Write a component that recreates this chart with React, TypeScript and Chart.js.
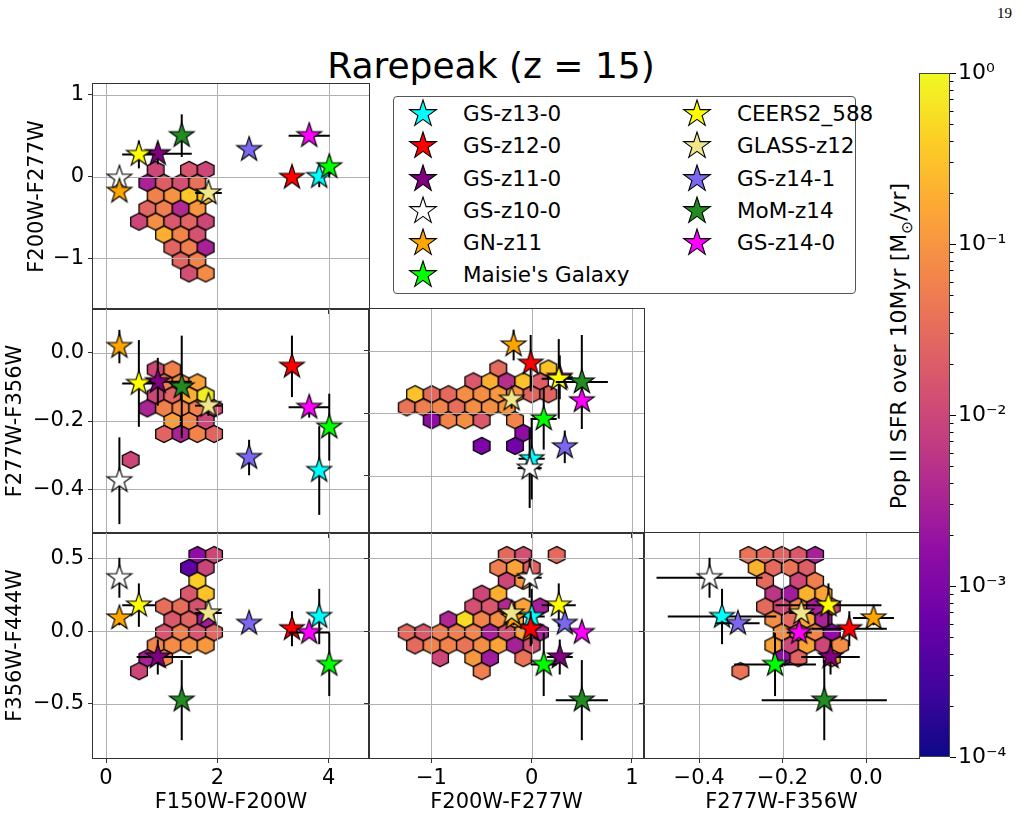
import React, { useEffect, useMemo, useRef } from 'react';
import { Chart, registerables } from 'chart.js';

Chart.register(...registerables);
Chart.defaults.font.family = "'DejaVu Sans', 'Noto Sans', sans-serif";

// ---------------- observed galaxies ----------------
const galaxyNames = ['GS-z13-0', 'GS-z12-0', 'GS-z11-0', 'GS-z10-0', 'GN-z11', "Maisie's Galaxy",
  'CEERS2_588', 'GLASS-z12', 'GS-z14-1', 'MoM-z14', 'GS-z14-0'];
const galaxyColors = ['#00ffff', '#ff0000', '#800080', '#ffffff', '#ffa500', '#00ff00',
  '#ffff00', '#f0e68c', '#7b68ee', '#228b22', '#ff00ff'];

// colours (mag)
const colF150F200 = [3.83, 3.34, 0.93, 0.24, 0.24, 4.01, 0.59, 1.84, 2.57, 1.36, 3.65];
const colF200F277 = [0.0, -0.01, 0.28, -0.02, -0.18, 0.12, 0.27, -0.2, 0.33, 0.5, 0.5];
const colF277F356 = [-0.345, -0.04, -0.085, -0.375, 0.018, -0.218, -0.09, -0.155, -0.307, -0.1, -0.16];
const colF356F444 = [0.1, 0.016, -0.178, 0.366, 0.09, -0.229, 0.178, 0.124, 0.053, -0.474, -0.01];

// uncertainties (lower / upper)
const errF150F200Lo = [0.05, 0.05, 0.38, 0.05, 0.05, 0.05, 0.3, 0.24, 0.03, 0.05, 0.37];
const errF150F200Hi = [0.05, 0.05, 0.61, 0.05, 0.05, 0.05, 0.3, 0.24, 0.03, 0.05, 0.37];
const errF200F277 = [0.13, 0.05, 0.13, 0.12, 0.05, 0.13, 0.17, 0.03, 0.03, 0.26, 0.03];
const errF277F356 = [0.13, 0.09, 0.07, 0.127, 0.049, 0.098, 0.127, 0.03, 0.052, 0.15, 0.03];
const errF356F444 = [0.19, 0.12, 0.12, 0.137, 0.05, 0.217, 0.149, 0.03, 0.02, 0.275, 0.03];

// ---------------- simulated hexbins: [x, y, log10 SFR] ----------------
type Hex = [number, number, number];

const hexF150F200_F200F277: Hex[] = [
  [0.892, 0.082, -2.0], [1.491, 0.082, -1.8], [1.79, 0.082, -2.0],
  [0.742, -0.076, -2.5], [1.042, -0.076, -1.68], [1.341, -0.076, -1.88], [1.64, -0.076, -1.44],
  [0.892, -0.234, -1.24], [1.191, -0.234, -1.04], [1.491, -0.234, -0.48], [1.79, -0.234, -0.56],
  [0.742, -0.392, -1.56], [1.042, -0.392, -1.28], [1.341, -0.392, -2.4], [1.64, -0.392, -1.0],
  [0.593, -0.55, -2.0], [0.892, -0.55, -1.08], [1.191, -0.55, -1.76], [1.491, -0.55, -1.6], [1.79, -0.55, -2.0],
  [1.042, -0.708, -0.72], [1.341, -0.708, -1.2], [1.64, -0.708, -1.84],
  [1.191, -0.866, -1.6], [1.491, -0.866, -1.28], [1.79, -0.866, -2.52],
  [1.341, -1.024, -1.6], [1.64, -1.024, -1.2],
  [1.491, -1.182, -1.88], [1.79, -1.182, -1.12],
];

const hexF150F200_F277F356: Hex[] = [
  [0.892, -0.049, -2.0], [1.191, -0.049, -1.24],
  [1.042, -0.087, -1.3], [1.341, -0.087, -1.1], [1.64, -0.087, -0.88],
  [0.892, -0.125, -2.0], [1.191, -0.125, -1.6], [1.491, -0.125, -0.72], [1.79, -0.125, -0.12],
  [0.742, -0.163, -2.48], [1.042, -0.163, -1.24], [1.341, -0.163, -1.16], [1.64, -0.163, -1.24], [1.94, -0.163, -1.84],
  [1.191, -0.2, -0.88], [1.491, -0.2, -1.16], [1.79, -0.2, -2.0],
  [1.042, -0.238, -1.6], [1.341, -0.238, -2.48], [1.64, -0.238, -1.2], [1.94, -0.238, -1.6],
  [0.443, -0.314, -2.0],
];

const hexF150F200_F356F444: Hex[] = [
  [1.64, 0.522, -2.8], [1.94, 0.522, -2.0],
  [1.491, 0.434, -3.3], [1.79, 0.434, -2.04],
  [1.64, 0.345, -0.4],
  [1.491, 0.256, -1.76], [1.79, 0.256, -0.52],
  [1.042, 0.168, -1.48], [1.341, 0.168, -1.48], [1.64, 0.168, -1.84],
  [1.191, 0.079, -1.76], [1.491, 0.079, -1.6], [1.79, 0.079, -2.6],
  [1.042, -0.009, -1.8], [1.341, -0.009, -1.24], [1.64, -0.009, -1.8], [1.94, -0.009, -1.56],
  [0.892, -0.098, -1.16], [1.191, -0.098, -1.12], [1.491, -0.098, -1.04], [1.79, -0.098, -0.96],
  [0.742, -0.186, -2.52], [1.042, -0.186, -1.16],
  [0.593, -0.275, -2.0],
];

const hexF200F277_F277F356: Hex[] = [
  [-0.333, -0.057, -1.52], [0.166, -0.057, -0.52],
  [-0.582, -0.098, -1.76], [-0.416, -0.098, -0.72], [-0.249, -0.098, -2.32], [-0.083, -0.098, -0.52], [0.083, -0.098, -1.68],
  [-1.163, -0.139, -0.52], [-0.997, -0.139, -1.52], [-0.831, -0.139, -1.52], [-0.665, -0.139, -1.08], [-0.499, -0.139, -1.08],
  [-0.333, -0.139, -0.96], [-0.166, -0.139, -1.0], [0.0, -0.139, -1.6], [0.166, -0.139, -1.6],
  [-1.246, -0.181, -1.4], [-1.08, -0.181, -1.28], [-0.914, -0.181, -1.2], [-0.748, -0.181, -1.48],
  [-0.582, -0.181, -1.08], [-0.416, -0.181, -1.08], [-0.249, -0.181, -0.96],
  [-0.997, -0.222, -2.8], [-0.831, -0.222, -1.2], [-0.665, -0.222, -1.08], [-0.499, -0.222, -1.76], [-0.166, -0.222, -1.2],
  [-0.083, -0.263, -2.8],
  [-0.499, -0.304, -3.0], [-0.166, -0.304, -3.12],
];

const hexF200F277_F356F444: Hex[] = [
  [-0.249, 0.522, -1.52], [-0.083, 0.522, -1.88], [0.249, 0.522, -1.52],
  [-0.333, 0.434, -1.28], [-0.166, 0.434, -0.84], [0.0, 0.434, -1.6],
  [-0.249, 0.345, -2.0], [-0.083, 0.345, -0.96],
  [-0.499, 0.256, -2.0], [-0.333, 0.256, -0.72],
  [-0.582, 0.168, -1.88], [-0.416, 0.168, -1.76], [-0.249, 0.168, -2.4], [-0.083, 0.168, -0.84], [0.083, 0.168, -2.52],
  [-0.831, 0.079, -2.44], [-0.665, 0.079, -0.28], [-0.499, 0.079, -1.2], [-0.333, 0.079, -1.08], [-0.166, 0.079, -0.72],
  [-1.246, -0.009, -1.52], [-1.08, -0.009, -1.76], [-0.914, -0.009, -1.28], [-0.748, -0.009, -1.28], [-0.582, -0.009, -1.2],
  [-0.416, -0.009, -2.52], [-0.249, -0.009, -1.88], [-0.083, -0.009, -0.84], [0.083, -0.009, -2.52],
  [-1.163, -0.098, -1.52], [-0.997, -0.098, -1.2], [-0.831, -0.098, -1.2], [-0.665, -0.098, -1.4],
  [-0.499, -0.098, -1.08], [-0.333, -0.098, -0.84], [-0.166, -0.098, -2.52], [0.0, -0.098, -1.88],
  [-0.914, -0.186, -2.0], [-0.582, -0.186, -0.96], [-0.416, -0.186, -2.6], [-0.083, -0.186, -1.4],
  [-0.499, -0.275, -1.28],
];

const hexF277F356_F356F444: Hex[] = [
  [-0.282, 0.522, -1.4], [-0.242, 0.522, -1.52], [-0.202, 0.522, -1.6], [-0.162, 0.522, -1.76], [-0.122, 0.522, -2.52],
  [-0.262, 0.434, -0.68], [-0.222, 0.434, -1.52], [-0.182, 0.434, -1.4], [-0.142, 0.434, -1.68],
  [-0.242, 0.345, -1.52], [-0.162, 0.345, -2.0], [-0.122, 0.345, -1.28],
  [-0.222, 0.256, -2.24], [-0.182, 0.256, -2.6], [-0.142, 0.256, -0.68], [-0.102, 0.256, -0.84],
  [-0.242, 0.168, -1.52], [-0.202, 0.168, -2.0], [-0.162, 0.168, -1.2], [-0.122, 0.168, -2.52], [-0.082, 0.168, -2.0],
  [-0.222, 0.079, -1.08], [-0.182, 0.079, -1.52], [-0.142, 0.079, -0.8], [-0.102, 0.079, -2.5],
  [-0.202, -0.009, -1.08], [-0.162, -0.009, -1.52], [-0.122, -0.009, -1.2], [-0.082, -0.009, -2.8],
  [-0.222, -0.098, -0.84], [-0.182, -0.098, -2.0], [-0.142, -0.098, -0.84], [-0.102, -0.098, -2.0], [-0.062, -0.098, -1.08],
  [-0.202, -0.186, -2.8], [-0.162, -0.186, -1.6], [-0.082, -0.186, -0.84],
  [-0.301, -0.275, -1.4],
];

// ---------------- axes ----------------
const axisTitles = ['F150W-F200W', 'F200W-F277W', 'F277W-F356W', 'F356W-F444W'];
const ticksF150F200 = [0, 2, 4];
const ticksF200F277 = [-1, 0, 1];
const ticksF277F356 = [-0.4, -0.2, 0];
const ticksF356F444 = [-0.5, 0, 0.5];
const tickDecimals = [0, 0, 1, 1];
const sfrDecades = [1e-4, 1e-3, 1e-2, 1e-1, 1];

const colourValues = [colF150F200, colF200F277, colF277F356, colF356F444];
const errLo = [errF150F200Lo, errF200F277, errF277F356, errF356F444];
const errHi = [errF150F200Hi, errF200F277, errF277F356, errF356F444];
const axisTicks = [ticksF150F200, ticksF200F277, ticksF277F356, ticksF356F444];

// grid geometry of the corner plot
const COL_LEFT = [93, 369, 644];
const COL_W = [276, 275, 275];
const ROW_TOP = [84, 309, 533];
const ROW_H = [225, 224, 225];

type PanelSpec = {
  xi: number; yi: number; col: number; row: number;
  xRange: [number, number]; yRange: [number, number]; hex: Hex[];
};

const panels: PanelSpec[] = [
  { xi: 0, yi: 1, col: 0, row: 0, xRange: [-0.234, 4.724], yRange: [-1.617, 1.131], hex: hexF150F200_F200F277 },
  { xi: 0, yi: 2, col: 0, row: 1, xRange: [-0.234, 4.724], yRange: [-0.528, 0.128], hex: hexF150F200_F277F356 },
  { xi: 1, yi: 2, col: 1, row: 1, xRange: [-1.622, 1.12], yRange: [-0.582, 0.133], hex: hexF200F277_F277F356 },
  { xi: 0, yi: 3, col: 0, row: 2, xRange: [-0.234, 4.724], yRange: [-0.871, 0.673], hex: hexF150F200_F356F444 },
  { xi: 1, yi: 3, col: 1, row: 2, xRange: [-1.622, 1.12], yRange: [-0.871, 0.673], hex: hexF200F277_F356F444 },
  { xi: 2, yi: 3, col: 2, row: 2, xRange: [-0.532, 0.127], yRange: [-0.871, 0.673], hex: hexF277F356_F356F444 },
];

// ---------------- colour map ----------------
const PLASMA = [
  [13, 8, 135], [65, 4, 157], [106, 0, 168], [143, 13, 164], [177, 42, 144], [204, 71, 120],
  [225, 100, 98], [242, 132, 75], [252, 166, 54], [252, 206, 37], [240, 249, 33],
];
function plasma(t: number): string {
  const tt = Math.min(1, Math.max(0, t)) * 10;
  const i = Math.min(9, Math.floor(tt));
  const f = tt - i;
  const a = PLASMA[i], b = PLASMA[i + 1];
  const c = [0, 1, 2].map((k) => Math.round(a[k] + (b[k] - a[k]) * f));
  return `rgb(${c[0]},${c[1]},${c[2]})`;
}
const LOG_MIN = -4, LOG_MAX = 0;
const sfrColor = (logv: number) => plasma((logv - LOG_MIN) / (LOG_MAX - LOG_MIN));

// ---------------- marker sprites ----------------
const hexCache = new Map<string, HTMLCanvasElement>();
function hexImage(color: string): HTMLCanvasElement {
  const hit = hexCache.get(color);
  if (hit) return hit;
  const c = document.createElement('canvas');
  c.width = 20; c.height = 20;
  const g = c.getContext('2d')!;
  const cx = 10, cy = 10, hw = 8.35, hh = 8.6;
  g.beginPath();
  g.moveTo(cx, cy - hh);
  g.lineTo(cx + hw, cy - hh / 2);
  g.lineTo(cx + hw, cy + hh / 2);
  g.lineTo(cx, cy + hh);
  g.lineTo(cx - hw, cy + hh / 2);
  g.lineTo(cx - hw, cy - hh / 2);
  g.closePath();
  g.fillStyle = color;
  g.fill();
  g.lineWidth = 1.3;
  g.strokeStyle = '#000';
  g.stroke();
  hexCache.set(color, c);
  return c;
}

function starImage(color: string, R: number): HTMLCanvasElement {
  let size = Math.ceil(2 * R + 4);
  if (size % 2) size += 1;
  const c = document.createElement('canvas');
  c.width = size; c.height = size;
  const g = c.getContext('2d')!;
  const cx = size / 2, cy = size / 2;
  g.beginPath();
  for (let i = 0; i < 10; i++) {
    const ang = -Math.PI / 2 + (i * Math.PI) / 5;
    const r = i % 2 === 0 ? R : R * 0.381966;
    const px = cx + r * Math.cos(ang), py = cy + r * Math.sin(ang);
    if (i === 0) g.moveTo(px, py); else g.lineTo(px, py);
  }
  g.closePath();
  g.fillStyle = color;
  g.fill();
  g.lineWidth = 1.1;
  g.lineJoin = 'miter';
  g.strokeStyle = '#000';
  g.stroke();
  return c;
}

const fmtTick = (v: number, dec: number) => (v < -1e-9 ? '\u2212' : '') + Math.abs(v).toFixed(dec);

const SUP: Record<string, string> = { '0': '⁰', '1': '¹', '2': '²', '3': '³', '4': '⁴', '-': '⁻' };
const decadeLabel = (v: number) => '10' + String(Math.round(Math.log10(v))).split('').map((ch) => SUP[ch] ?? ch).join('');

// ---------------- plugins ----------------
const gridAfterHex = {
  id: 'gridAfterHex',
  afterDatasetDraw(chart: any, args: any) {
    const ds = chart.data.datasets[args.index];
    if (!ds || ds.label !== 'hexbin') return;
    const { ctx, chartArea: a, scales } = chart;
    ctx.save();
    ctx.strokeStyle = '#b0b0b0';
    ctx.lineWidth = 1;
    for (const t of scales.x.ticks) {
      const px = Math.round(scales.x.getPixelForValue(t.value)) + 0.5;
      ctx.beginPath(); ctx.moveTo(px, a.top); ctx.lineTo(px, a.bottom); ctx.stroke();
    }
    for (const t of scales.y.ticks) {
      const py = Math.round(scales.y.getPixelForValue(t.value)) + 0.5;
      ctx.beginPath(); ctx.moveTo(a.left, py); ctx.lineTo(a.right, py); ctx.stroke();
    }
    ctx.restore();
  },
};

const frame = {
  id: 'frame',
  afterDatasetsDraw(chart: any) {
    const { ctx, chartArea: a } = chart;
    ctx.save();
    ctx.strokeStyle = '#333';
    ctx.lineWidth = 1;
    ctx.strokeRect(Math.round(a.left) - 0.5, Math.round(a.top) - 0.5, Math.round(a.right - a.left) + 1, Math.round(a.bottom - a.top) + 1);
    ctx.restore();
  },
};

const cbarDecor = {
  id: 'cbarDecor',
  afterDraw(chart: any) {
    const { ctx, chartArea: a, scales } = chart;
    const y = scales.y;
    ctx.save();
    ctx.strokeStyle = '#000';
    ctx.lineWidth = 1;
    for (let d = -4; d < 0; d++) {
      for (let k = 2; k <= 9; k++) {
        const py = Math.round(y.getPixelForValue(k * Math.pow(10, d))) + 0.5;
        ctx.beginPath(); ctx.moveTo(a.right, py); ctx.lineTo(a.right + 3.5, py); ctx.stroke();
      }
    }
    ctx.strokeStyle = '#444';
    ctx.strokeRect(Math.round(a.left) + 0.5, Math.round(a.top) + 0.5, Math.round(a.right - a.left) - 1, Math.round(a.bottom - a.top) - 1);
    ctx.restore();
  },
};

// ---------------- components ----------------
const TICK_FONT = 21;
const TITLE_FONT = 21;

function CornerPanel({ spec, stars }: { spec: PanelSpec; stars: HTMLCanvasElement[] }) {
  const ref = useRef<HTMLCanvasElement>(null);
  const showX = spec.row === 2;
  const showY = spec.col === 0;
  // wider tick labels push the y title further out on the lower rows
  const L = showY && spec.row > 0 ? 90 : 70;
  const yTitlePad = spec.row > 0 ? 0 : 2;
  const R = 6, T = 6, B = 60;
  const W = COL_W[spec.col], H = ROW_H[spec.row];
  const cw = L + W + R, ch = T + H + B;

  useEffect(() => {
    const xs = colourValues[spec.xi], ys = colourValues[spec.yi];
    const datasets: any[] = [];
    datasets.push({
      label: 'hexbin',
      data: spec.hex.map(([x, y, v]) => ({ x, y, v })),
      pointStyle: (c: any) => hexImage(sfrColor(c.raw ? c.raw.v : -2)),
      pointRadius: 9,
      pointHoverRadius: 9,
      order: 1000,
    });
    galaxyNames.forEach((name, k) => {
      const x = xs[k], y = ys[k];
      const line = { showLine: true, borderColor: '#000', borderWidth: 2, pointRadius: 0, pointHoverRadius: 0, fill: false };
      datasets.push({ label: name + ' x-err', data: [{ x: x - errLo[spec.xi][k], y }, { x: x + errHi[spec.xi][k], y }], ...line, order: 500 - 2 * k });
      datasets.push({ label: name + ' y-err', data: [{ x, y: y - errLo[spec.yi][k] }, { x, y: y + errHi[spec.yi][k] }], ...line, order: 500 - 2 * k });
      datasets.push({ label: name, data: [{ x, y }], pointStyle: stars[k], pointRadius: 12, pointHoverRadius: 12, order: 499 - 2 * k });
    });

    const chart = new Chart(ref.current!, {
      type: 'scatter',
      data: { datasets },
      options: {
        responsive: false,
        animation: false,
        devicePixelRatio: 1,
        events: [],
        layout: { padding: { left: 0, top: T, right: R, bottom: 0 }, autoPadding: false },
        plugins: { legend: { display: false }, tooltip: { enabled: false } },
        scales: {
          x: {
            type: 'linear',
            min: spec.xRange[0],
            max: spec.xRange[1],
            afterBuildTicks: (s: any) => { s.ticks = axisTicks[spec.xi].map((v) => ({ value: v })); },
            afterFit: (s: any) => { s.height = B; s.paddingLeft = 0; s.paddingRight = 0; },
            ticks: {
              display: showX, color: '#000', font: { size: TICK_FONT }, padding: 3, autoSkip: false, maxRotation: 0,
              callback: (v: any) => fmtTick(Number(v), tickDecimals[spec.xi]),
            },
            grid: { display: true, drawOnChartArea: false, drawTicks: true, tickLength: 5, tickColor: '#333', tickWidth: 1 },
            border: { display: false },
            title: { display: showX, text: axisTitles[spec.xi], color: '#000', font: { size: TITLE_FONT }, padding: { top: 0, bottom: 2.4 } },
          },
          y: {
            type: 'linear',
            min: spec.yRange[0],
            max: spec.yRange[1],
            afterBuildTicks: (s: any) => { s.ticks = axisTicks[spec.yi].map((v) => ({ value: v })); },
            afterFit: (s: any) => { s.width = L; s.paddingTop = 0; s.paddingBottom = 0; },
            ticks: {
              display: showY, color: '#000', font: { size: TICK_FONT }, padding: 4, autoSkip: false,
              callback: (v: any) => fmtTick(Number(v), tickDecimals[spec.yi]),
            },
            grid: { display: true, drawOnChartArea: false, drawTicks: true, tickLength: 5, tickColor: '#333', tickWidth: 1 },
            border: { display: false },
            title: { display: showY, text: axisTitles[spec.yi], color: '#000', font: { size: TITLE_FONT }, padding: { top: yTitlePad, bottom: 0 } },
          },
        },
      } as any,
      plugins: [gridAfterHex, frame],
    });
    return () => chart.destroy();
  }, []);

  return (
    <canvas
      ref={ref}
      width={cw}
      height={ch}
      style={{ position: 'absolute', left: COL_LEFT[spec.col] - L, top: ROW_TOP[spec.row] - T, width: cw, height: ch }}
    />
  );
}

const CB_LEFT = 919, CB_TOP = 73, CB_W = 31, CB_H = 684;

function ColorBar() {
  const ref = useRef<HTMLCanvasElement>(null);
  const PAD = 16, RW = 80;
  const cw = CB_W + RW, ch = CB_H + 2 * PAD;
  useEffect(() => {
    const chart = new Chart(ref.current!, {
      type: 'bar',
      data: {
        labels: [''],
        datasets: [{
          data: [[sfrDecades[0], sfrDecades[sfrDecades.length - 1]]],
          backgroundColor: (c: any) => {
            const a = c.chart.chartArea;
            if (!a) return '#888';
            const g = c.chart.ctx.createLinearGradient(0, a.bottom, 0, a.top);
            for (let i = 0; i <= 20; i++) g.addColorStop(i / 20, plasma(i / 20));
            return g;
          },
          borderWidth: 0,
          barPercentage: 1,
          categoryPercentage: 1,
        }],
      },
      options: {
        responsive: false,
        animation: false,
        devicePixelRatio: 1,
        events: [],
        layout: { padding: { left: 0, top: PAD, right: 0, bottom: PAD }, autoPadding: false },
        plugins: { legend: { display: false }, tooltip: { enabled: false } },
        scales: {
          x: { display: false },
          y: {
            type: 'logarithmic',
            position: 'right',
            min: sfrDecades[0],
            max: sfrDecades[sfrDecades.length - 1],
            afterBuildTicks: (s: any) => { s.ticks = sfrDecades.map((v) => ({ value: v, major: true })); },
            afterFit: (s: any) => { s.width = RW; s.paddingTop = 0; s.paddingBottom = 0; },
            ticks: { color: '#000', font: { size: 22 }, padding: 2, autoSkip: false, callback: (v: any) => decadeLabel(Number(v)) },
            grid: { display: true, drawOnChartArea: false, drawTicks: true, tickLength: 6, tickColor: '#000', tickWidth: 1 },
            border: { display: false },
          },
        },
      } as any,
      plugins: [cbarDecor],
    });
    return () => chart.destroy();
  }, []);
  return (
    <canvas
      ref={ref}
      width={cw}
      height={ch}
      style={{ position: 'absolute', left: CB_LEFT, top: CB_TOP - PAD, width: cw, height: ch }}
    />
  );
}

function Legend() {
  const icons = useMemo(() => galaxyColors.map((c) => starImage(c, 14).toDataURL()), []);
  const rowY = (i: number) => 114.3 + 32.1 * i;
  const items = galaxyNames.map((name, k) => {
    const col = k < 6 ? 0 : 1;
    const row = k < 6 ? k : k - 6;
    const sx = col === 0 ? 423.3 : 697.3;
    const tx = col === 0 ? 463 : 737;
    const cy = rowY(row);
    return (
      <React.Fragment key={name}>
        <img src={icons[k]} style={{ position: 'absolute', left: sx - 16, top: cy - 16, width: 32, height: 32 }} />
        <div style={{ position: 'absolute', left: tx, top: cy - 13, height: 26, lineHeight: '26px', fontSize: 21.5, whiteSpace: 'nowrap', color: '#000' }}>
          {name}
        </div>
      </React.Fragment>
    );
  });
  return (
    <>
      <div style={{ position: 'absolute', left: 393, top: 96, width: 463, height: 198, boxSizing: 'border-box', border: '1px solid #555', borderRadius: 4, background: '#fff' }} />
      {items}
    </>
  );
}

export default function App() {
  const stars = useMemo(() => galaxyColors.map((c) => starImage(c, 13)), []);
  return (
    <div style={{ position: 'absolute', left: 0, top: 0, width: 1025, height: 816, background: '#fff', overflow: 'hidden', fontFamily: "'DejaVu Sans', sans-serif" }}>
      <div style={{ position: 'absolute', left: 997, top: 5, fontFamily: "'Liberation Serif', 'DejaVu Serif', serif", fontSize: 15 }}>19</div>
      <div style={{ position: 'absolute', left: 291, top: 44, width: 400, textAlign: 'center', fontSize: 36, lineHeight: '44px', color: '#000' }}>
        Rarepeak (z = 15)
      </div>
      {panels.map((p, i) => <CornerPanel key={i} spec={p} stars={stars} />)}
      <Legend />
      <ColorBar />
      <div style={{ position: 'absolute', left: 901, top: 346, transform: 'translate(-50%, -50%) rotate(-90deg)', whiteSpace: 'nowrap', fontSize: 22, color: '#000' }}>
        Pop II SFR over 10Myr [M<sub style={{ fontSize: '0.7em' }}>⊙</sub>/yr]
      </div>
    </div>
  );
}
